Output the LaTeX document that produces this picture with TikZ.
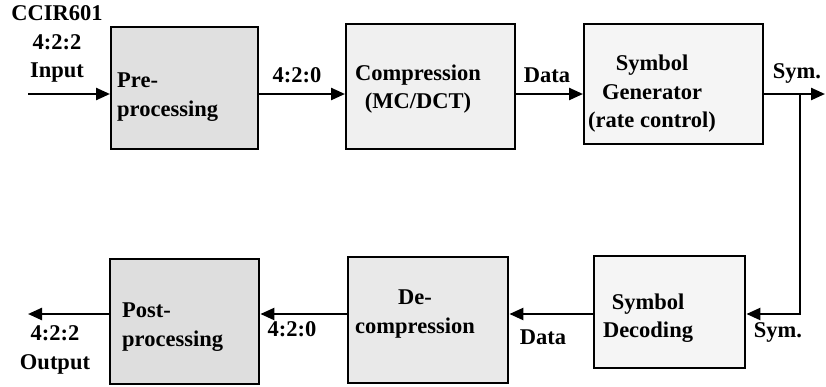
\documentclass[tikz,border=0pt]{standalone}
\usepackage{fontspec}
\setmainfont{Liberation Serif}
\usetikzlibrary{arrows.meta}
\tikzset{
  blk/.style={draw=black, line width=2.4pt, inner sep=0pt, anchor=north west},
  txt/.style={inner sep=0pt, font=\fontsize{22.5}{28.5}\selectfont\bfseries, align=center},
  arr/.style={line width=2.4pt, -{Triangle[length=14pt,width=12pt]}},
  ln/.style={line width=2.4pt}
}
\begin{document}
\begin{tikzpicture}[x=1pt,y=1pt]
\useasboundingbox (0,0) rectangle (826,-386);
% boxes
\node[blk, fill=gray!24, minimum width=147pt, minimum height=122pt] (pre) at (110,-26) {};
\node[blk, fill=gray!12, minimum width=169pt, minimum height=125pt] (comp) at (345,-23) {};
\node[blk, fill=gray!8, minimum width=179pt, minimum height=120pt] (gen) at (583,-23) {};
\node[blk, fill=gray!26, minimum width=149pt, minimum height=125pt] (post) at (109,-258) {};
\node[blk, fill=gray!17, minimum width=160pt, minimum height=126pt] (decomp) at (347,-256) {};
\node[blk, fill=gray!8, minimum width=151pt, minimum height=112pt] (sdec) at (593,-255) {};
% box texts
\node[txt, align=left, anchor=west] (pret) at (117,-97) {Pre-\\processing};
\node[txt] (compt) at (418,-89) {Compression\\(MC/DCT)};
\node[txt] (gent) at (652,-94) {Symbol\\Generator\\(rate control)};
\node[txt, align=left, anchor=west] (postt) at (122,-327) {Post-\\processing};
\node[txt] (decompt) at (415,-314) {De-\\compression};
\node[txt] (sdect) at (648,-318) {Symbol\\Decoding};
% outside labels
\node[txt] (inl) at (57,-44) {CCIR601\\4:2:2\\Input};
\node[txt] (l420a) at (297,-75) {4:2:0};
\node[txt] (ldata1) at (547,-75) {Data};
\node[txt] (lsym1) at (797,-73) {Sym.};
\node[txt] (lsym2) at (778,-332) {Sym.};
\node[txt] (ldata2) at (543,-337) {Data};
\node[txt] (l420b) at (292,-329) {4:2:0};
\node[txt] (outl) at (55,-350) {4:2:2\\Output};
% coordinates
\coordinate (r1) at (0,-94);
\coordinate (r2) at (0,-314);
\coordinate (in) at (28,-94);
\coordinate (symout) at (825,-94);
\coordinate (br) at (800,-94);
\coordinate (outc) at (28,-314);
% connectors
\draw[arr] (in) -- (in -| pre.west);
\draw[arr] (r1 -| pre.east) -- (r1 -| comp.west);
\draw[arr] (r1 -| comp.east) -- (r1 -| gen.west);
\draw[arr] (r1 -| gen.east) -- (symout);
\draw[arr] (br) |- (r2 -| sdec.east);
\draw[arr] (r2 -| sdec.west) -- (r2 -| decomp.east);
\draw[arr] (r2 -| decomp.west) -- (r2 -| post.east);
\draw[arr] (r2 -| post.west) -- (outc);
\end{tikzpicture}
\end{document}
